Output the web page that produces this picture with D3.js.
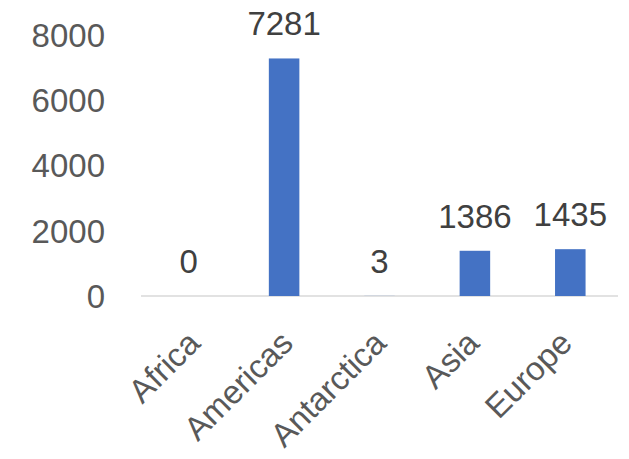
<!DOCTYPE html>
<html>
<head>
<meta charset="utf-8">
<script src="https://cdn.jsdelivr.net/npm/d3@7"></script>
<style>
  body { margin: 0; background: #fff; }
  text { font-family: "Liberation Sans", Arial, sans-serif; }
</style>
</head>
<body>
<div id="graph"></div>
<script>
const svgw = 629
const svgh = 459

const categories = ['Africa', 'Americas', 'Antarctica', 'Asia', 'Europe']
const counts = [0, 7281, 3, 1386, 1435]
const yTicks = [0, 2000, 4000, 6000, 8000]

const plotLeft = 141, plotRight = 618, plotTop = 35, base = 296
const fs = 33

const svg = d3.select('#graph')
    .append('svg')
    .attr('width', svgw)
    .attr('height', svgh)

const xScale = d3.scaleBand()
    .domain(categories)
    .range([plotLeft, plotRight])
    .paddingInner(0.68)
    .paddingOuter(0.34)

// rotated labels sit on a slightly tighter spacing than the bars
const labelScale = d3.scalePoint()
    .domain(categories)
    .range([202, 574])

const yScale = d3.scaleLinear()
    .domain([0, 8000])
    .range([base, plotTop])

// y tick labels (no axis line)
svg.append('g')
    .selectAll('text')
    .data(yTicks)
    .enter()
    .append('text')
    .attr('x', 105)
    .attr('y', d => yScale(d))
    .attr('dy', '0.36em')
    .attr('text-anchor', 'end')
    .attr('font-size', fs)
    .attr('fill', '#595959')
    .text(d => d)

// baseline
svg.append('line')
    .attr('x1', plotLeft)
    .attr('x2', plotRight)
    .attr('y1', base)
    .attr('y2', base)
    .attr('stroke', '#d9d9d9')
    .attr('stroke-width', 1.5)

// bars
svg.selectAll('rect')
    .data(categories)
    .enter()
    .append('rect')
    .attr('x', d => xScale(d))
    .attr('y', (d, i) => yScale(counts[i]))
    .attr('width', xScale.bandwidth())
    .attr('height', (d, i) => base - yScale(counts[i]))
    .attr('fill', '#4472c4')

// value labels
svg.append('g')
    .selectAll('text')
    .data(categories)
    .enter()
    .append('text')
    .attr('x', d => xScale(d) + xScale.bandwidth() / 2)
    .attr('y', (d, i) => yScale(counts[i]) - 23)
    .attr('text-anchor', 'middle')
    .attr('font-size', fs)
    .attr('fill', '#404040')
    .text((d, i) => counts[i])

// category labels, rotated
svg.append('g')
    .selectAll('text')
    .data(categories)
    .enter()
    .append('text')
    .attr('transform', d => `translate(${labelScale(d)},345) rotate(-45)`)
    .attr('text-anchor', 'end')
    .attr('font-size', fs)
    .attr('fill', '#595959')
    .text(d => d)
</script>
</body>
</html>
